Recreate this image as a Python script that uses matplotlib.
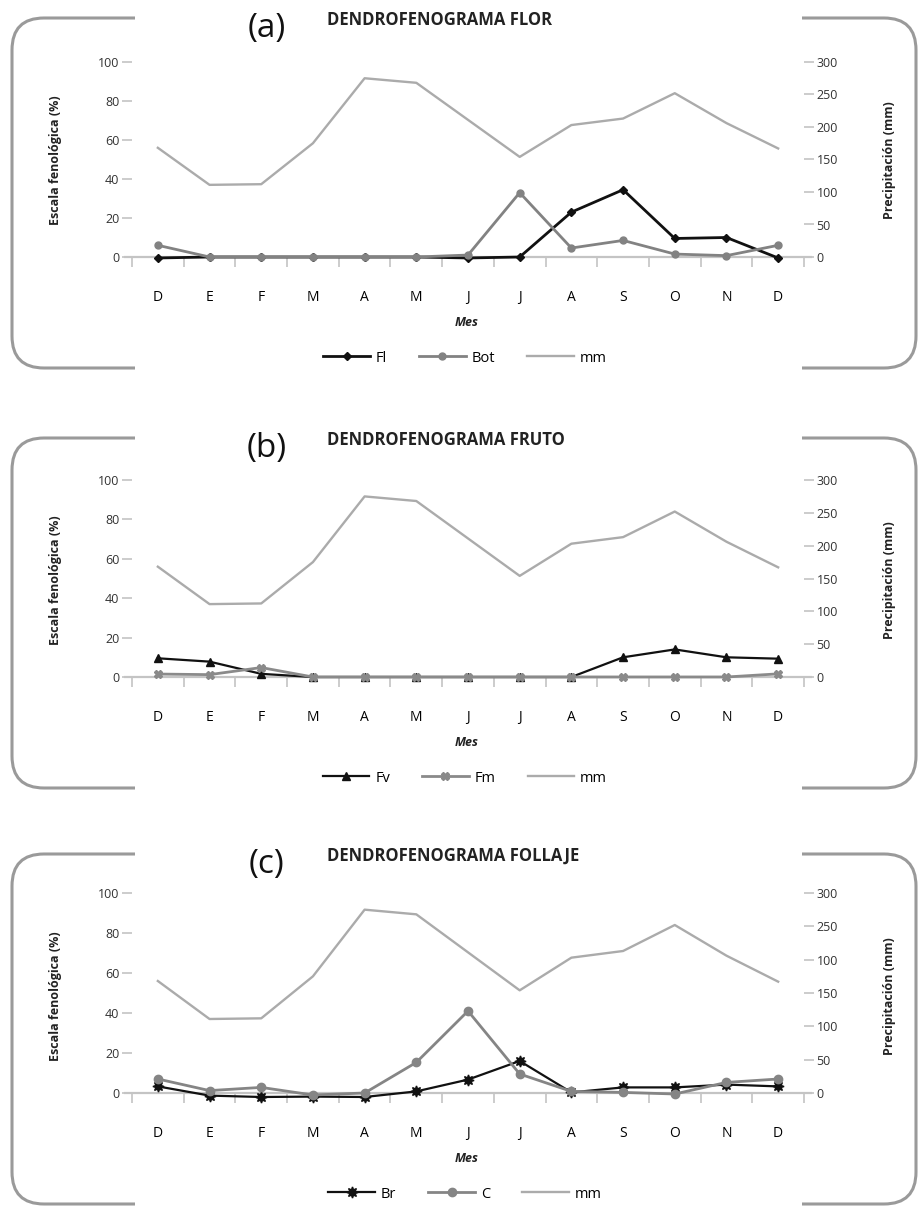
import matplotlib
matplotlib.use("Agg")
import matplotlib.pyplot as plt
from matplotlib.path import Path
from matplotlib.patches import PathPatch

# ---- data ----
months = ["D", "E", "F", "M", "A", "M", "J", "J", "A", "S", "O", "N", "D"]
precip_mm = [168, 111, 112, 175, 275, 268, 211, 154, 203, 213, 252, 206, 167]

flor_fl = [-0.5, 0, 0, 0, 0, 0, -0.5, 0, 23, 34.5, 9.5, 10, -0.5]
flor_bot = [6, 0, 0, 0, 0, 0, 1, 33, 4.6, 8.5, 1.5, 0.7, 6]

fruto_fv = [9.5, 7.8, 1.6, 0, 0, 0, 0, 0, 0, 10, 14, 10, 9.3]
fruto_fm = [1.5, 1.2, 4.8, 0, 0, 0, 0, 0, 0, 0, 0, 0, 1.6]

follaje_br = [3.3, -1.3, -2, -1.8, -2, 0.8, 6.7, 16, 0.3, 2.8, 2.8, 4.2, 3.3]
follaje_c = [7, 1.2, 2.8, -1, 0, 15.3, 41, 9.5, 0.8, 0.3, -0.5, 5.3, 7]

left_ticks = [0, 20, 40, 60, 80, 100]
right_ticks = [0, 50, 100, 150, 200, 250, 300]
right_labels = ["0", "50", "100", "150", "200", "250", "300"]
right_labels_c = ["0", "50", "100", "150", "100", "250", "300"]

W, H = 924, 1206
plt.rcParams["font.family"] = ["Open Sans", "DejaVu Sans"]

fig = plt.figure(figsize=(W / 100, H / 100), dpi=100)

# background axes in pixel coordinates for frames and free text
bg = fig.add_axes([0, 0, 1, 1])
bg.set_xlim(0, W)
bg.set_ylim(H, 0)
bg.axis("off")

GRID = "#c4c4c4"
MM = "#ababab"
X0, X1 = 132, 804
YLO, YHI = -6, 104


def bracket(top, bottom):
    r = 32
    col = "#9a9a9a"
    lx, rx = 12, 916
    verts = [(135, top), (lx + r, top), (lx, top), (lx, top + r),
             (lx, bottom - r), (lx, bottom), (lx + r, bottom), (135, bottom)]
    codes = [Path.MOVETO, Path.LINETO, Path.CURVE3, Path.CURVE3,
             Path.LINETO, Path.CURVE3, Path.CURVE3, Path.LINETO]
    bg.add_patch(PathPatch(Path(verts, codes), fill=False, lw=2.2, ec=col))
    verts = [(802, top), (rx - r, top), (rx, top), (rx, top + r),
             (rx, bottom - r), (rx, bottom), (rx - r, bottom), (802, bottom)]
    bg.add_patch(PathPatch(Path(verts, codes), fill=False, lw=2.2, ec=col))


def panel(zero_px, ppu, letter, title, series, rlabels):
    bottom_px = zero_px - YLO * ppu
    top_px = zero_px - YHI * ppu
    rect = [X0 / W, 1 - bottom_px / H, (X1 - X0) / W, (bottom_px - top_px) / H]
    ax = fig.add_axes(rect)
    ax.patch.set_alpha(0)
    ax2 = ax.twinx()
    ax.set_xlim(-0.5, 12.5)
    ax.set_ylim(YLO, YHI)
    ax2.set_ylim(YLO * 3, YHI * 3)

    for a in (ax, ax2):
        for s in ("top", "left", "right", "bottom"):
            a.spines[s].set_visible(False)

    x = list(range(len(months)))
    ax.axhline(0, xmin=-0.01, xmax=1.01, color=GRID, lw=1.6, clip_on=False, zorder=1)
    mm_line, = ax2.plot(x, precip_mm, color=MM, lw=1.7, label="mm", zorder=2)

    handles = []
    for vals, kw in series:
        h, = ax.plot(x, vals, zorder=3, **kw)
        handles.append(h)
    ax.set_zorder(ax2.get_zorder() + 1)

    ax.set_xticks(x)
    ax.set_xticklabels(months, fontsize=8, fontweight="bold", color="#222")
    ax.set_xticks([i - 0.5 for i in range(len(months) + 1)], minor=True)
    ax.tick_params(axis="x", which="major", length=0, pad=24)
    ax.tick_params(axis="x", which="minor", length=7, width=1.2, color=GRID, direction="out")
    ax.spines["bottom"].set_position(("data", 0))

    ax.set_yticks(left_ticks)
    ax.tick_params(axis="y", length=7, width=1.2, color=GRID, labelsize=9,
                   labelcolor="#333", pad=2)
    ax2.set_yticks(right_ticks)
    ax2.set_yticklabels(rlabels)
    ax2.tick_params(axis="y", length=7, width=1.2, color=GRID, labelsize=9,
                    labelcolor="#333", pad=2)

    # texts
    bg.text(267, zero_px - 229, letter, fontsize=24, ha="center", va="center", color="#111")
    bg.text(327, zero_px - 237, title, fontsize=12, fontweight="bold", ha="left",
            va="center", color="#222")
    bg.text(56, zero_px - 97, "Escala fenológica (%)", rotation=90, fontsize=9,
            fontweight="bold", ha="center", va="center", color="#222")
    bg.text(890, zero_px - 97, "Precipitación (mm)", rotation=90, fontsize=9,
            fontweight="bold", ha="center", va="center", color="#222")
    bg.text(467, zero_px + 66, "Mes", fontsize=9, fontweight="bold", style="italic",
            ha="center", va="center", color="#222")

    leg_y = 1 - (zero_px + 101) / H
    fig.legend(handles + [mm_line], [h.get_label() for h in handles] + ["mm"],
               loc="center", bbox_to_anchor=(465 / W, leg_y), ncol=3, frameon=False,
               fontsize=10.5, handlelength=3.2, columnspacing=2.2, handletextpad=0.4)

    bracket(zero_px - 239, zero_px + 111)


panel(257, 1.95, "(a)", "DENDROFENOGRAMA FLOR", [
    (flor_fl, dict(color="#111", lw=2, marker="D", ms=4.5, label="Fl")),
    (flor_bot, dict(color="#828282", lw=2, marker="o", ms=5, label="Bot")),
], right_labels)

panel(677, 1.97, "(b)", "DENDROFENOGRAMA FRUTO", [
    (fruto_fv, dict(color="#111", lw=1.6, marker="^", ms=6, label="Fv")),
    (fruto_fm, dict(color="#8a8a8a", lw=2, marker="X", ms=6, label="Fm")),
], right_labels)

panel(1093, 2.0, "(c)", "DENDROFENOGRAMA FOLLAJE", [
    (follaje_br, dict(color="#111", lw=1.6, marker=(8, 1, 0), ms=8, label="Br")),
    (follaje_c, dict(color="#858585", lw=2, marker="o", ms=6, label="C")),
], right_labels_c)

fig.savefig("out.png", dpi=100)
